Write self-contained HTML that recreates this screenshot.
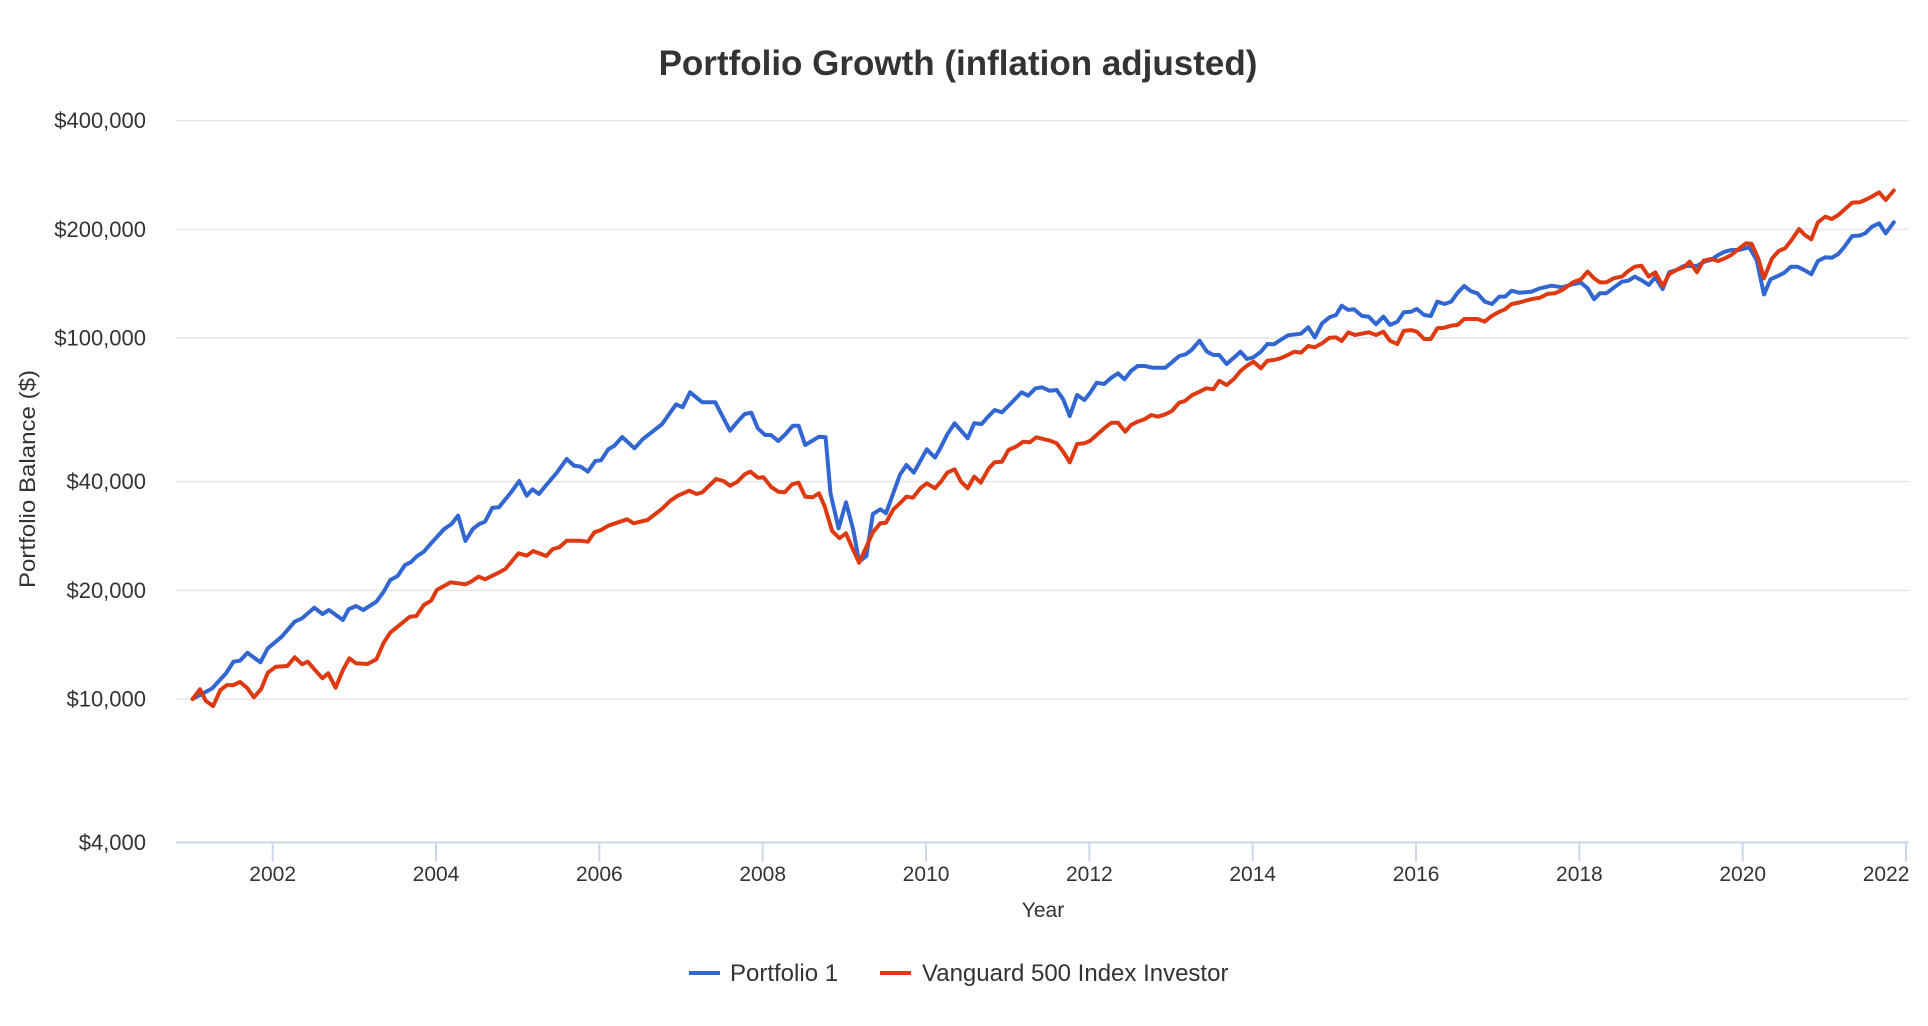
<!DOCTYPE html>
<html><head><meta charset="utf-8"><style>
html,body{margin:0;padding:0;background:#fff;}
svg{display:block;font-family:"Liberation Sans",Arial,sans-serif;}
</style></head><body>
<svg id="chart" width="1928" height="1026" viewBox="0 0 1928 1026">
<text x="958" y="75" text-anchor="middle" font-size="35" font-weight="bold" fill="#333">Portfolio Growth (inflation adjusted)</text>
<g id="grid"></g>
<g id="yaxis"></g>
<g id="xaxis"></g>
<text x="0" y="0" transform="translate(35,479) rotate(-90)" text-anchor="middle" font-size="22" textLength="218" lengthAdjust="spacingAndGlyphs" fill="#333">Portfolio Balance ($)</text>
<text x="1043" y="917" text-anchor="middle" font-size="21" fill="#333">Year</text>
<g id="series"></g>
<g>
 <g>
  <line x1="689" y1="973" x2="720" y2="973" stroke="#3266d0" stroke-width="4"/>
  <text x="730" y="981" font-size="24" fill="#333">Portfolio 1</text>
 </g>
 <g>
  <line x1="880" y1="973" x2="911" y2="973" stroke="#dd3a12" stroke-width="4"/>
  <text x="922" y="981" font-size="24" fill="#333">Vanguard 500 Index Investor</text>
 </g>
</g>
</svg>
<script>
const yTickValues=[4000,10000,20000,40000,100000,200000,400000];
const yTickLabels=["$4,000","$10,000","$20,000","$40,000","$100,000","$200,000","$400,000"];
const xTickYears=[2002,2004,2006,2008,2010,2012,2014,2016,2018,2020,2022];
const p1Dates=[2001.02,2001.26,2001.43,2001.52,2001.60,2001.69,2001.85,2001.94,2002.11,2002.27,2002.36,2002.51,2002.61,2002.69,2002.86,2002.93,2003.02,2003.11,2003.27,2003.36,2003.44,2003.53,2003.62,2003.69,2003.77,2003.85,2003.94,2004.10,2004.19,2004.27,2004.36,2004.45,2004.53,2004.60,2004.69,2004.77,2004.92,2005.02,2005.11,2005.18,2005.26,2005.35,2005.48,2005.60,2005.69,2005.77,2005.86,2005.95,2006.02,2006.11,2006.18,2006.28,2006.43,2006.53,2006.77,2006.87,2006.94,2007.02,2007.11,2007.26,2007.42,2007.60,2007.71,2007.78,2007.86,2007.94,2008.03,2008.10,2008.19,2008.27,2008.37,2008.44,2008.52,2008.69,2008.77,2008.83,2008.93,2009.02,2009.11,2009.18,2009.27,2009.35,2009.44,2009.51,2009.68,2009.76,2009.85,2010.01,2010.11,2010.17,2010.26,2010.35,2010.51,2010.59,2010.68,2010.76,2010.84,2010.93,2011.08,2011.17,2011.25,2011.34,2011.42,2011.51,2011.60,2011.68,2011.76,2011.85,2011.94,2012.01,2012.09,2012.18,2012.27,2012.35,2012.43,2012.51,2012.59,2012.68,2012.77,2012.93,2013.01,2013.10,2013.18,2013.25,2013.35,2013.44,2013.52,2013.59,2013.68,2013.77,2013.85,2013.93,2014.01,2014.10,2014.18,2014.26,2014.34,2014.43,2014.59,2014.68,2014.76,2014.85,2014.94,2015.02,2015.09,2015.17,2015.24,2015.34,2015.42,2015.51,2015.60,2015.68,2015.77,2015.85,2015.94,2016.01,2016.10,2016.18,2016.26,2016.35,2016.43,2016.51,2016.59,2016.67,2016.75,2016.84,2016.93,2017.02,2017.09,2017.17,2017.26,2017.41,2017.52,2017.66,2017.79,2017.92,2018.02,2018.10,2018.18,2018.25,2018.33,2018.42,2018.52,2018.60,2018.68,2018.77,2018.85,2018.93,2019.02,2019.10,2019.19,2019.28,2019.44,2019.53,2019.61,2019.70,2019.78,2019.86,2019.95,2020.08,2020.17,2020.26,2020.34,2020.43,2020.51,2020.59,2020.67,2020.75,2020.84,2020.92,2021.01,2021.09,2021.17,2021.24,2021.34,2021.43,2021.50,2021.58,2021.67,2021.75,2021.85];
const p1Values=[10000,10700,11800,12690,12770,13430,12640,13820,14880,16370,16730,17900,17200,17640,16550,17720,18100,17640,18600,19830,21360,21910,23500,23910,24900,25590,27000,29580,30540,32210,27400,29580,30540,30990,33880,33960,37370,40170,36580,38100,36980,39160,42370,46230,44300,44020,42640,45640,45840,49170,50210,53180,49490,52410,57790,62260,65530,64270,70730,66370,66370,55370,59290,61580,62100,56230,53870,53870,51850,53870,57150,57150,50540,53280,53070,37140,29710,35060,29380,24000,24900,32550,33540,32690,41750,44490,42370,49170,46620,49260,54110,58040,52740,58040,57790,60530,63180,62260,67340,70730,69210,72560,73030,71460,71780,67640,60800,69510,67340,70560,75190,74570,77620,79830,76850,81020,83640,83640,82740,82740,85650,89150,90120,92640,98290,91620,89730,89730,84730,88200,91620,87460,88430,91620,96250,96050,98740,101700,102800,107100,100400,109800,114100,115800,122900,119600,120100,115100,114600,109200,114600,108700,110900,117800,118300,120300,115800,115100,126100,124200,126100,133500,139300,134900,133000,126100,124200,130200,130200,135200,133500,134300,137300,139600,138200,140900,142300,137300,128100,133000,133000,137800,143200,144100,147900,144100,140300,147300,136700,152100,154400,158400,158400,162700,164500,169800,173400,175300,175300,178300,164500,132100,145400,148500,151700,157600,157600,154400,150200,163400,167300,166900,170900,178300,191700,192100,195000,203300,207800,195000,209200];
const vgDates=[2001.02,2001.11,2001.18,2001.27,2001.36,2001.44,2001.52,2001.60,2001.69,2001.77,2001.86,2001.94,2002.04,2002.18,2002.27,2002.36,2002.43,2002.51,2002.61,2002.68,2002.77,2002.86,2002.94,2003.02,2003.16,2003.27,2003.36,2003.44,2003.68,2003.76,2003.85,2003.94,2004.01,2004.18,2004.36,2004.43,2004.52,2004.60,2004.75,2004.85,2005.01,2005.11,2005.19,2005.35,2005.43,2005.51,2005.60,2005.76,2005.86,2005.94,2006.02,2006.11,2006.34,2006.42,2006.59,2006.76,2006.87,2006.96,2007.10,2007.19,2007.26,2007.43,2007.52,2007.60,2007.69,2007.78,2007.85,2007.94,2008.01,2008.10,2008.19,2008.27,2008.36,2008.44,2008.52,2008.61,2008.69,2008.76,2008.85,2008.94,2009.02,2009.09,2009.18,2009.27,2009.35,2009.44,2009.51,2009.60,2009.68,2009.76,2009.84,2009.93,2010.01,2010.11,2010.19,2010.26,2010.35,2010.43,2010.51,2010.59,2010.67,2010.77,2010.84,2010.93,2011.01,2011.10,2011.19,2011.27,2011.35,2011.52,2011.60,2011.68,2011.76,2011.85,2011.94,2012.01,2012.09,2012.19,2012.27,2012.35,2012.44,2012.51,2012.59,2012.68,2012.76,2012.84,2012.93,2013.01,2013.10,2013.17,2013.26,2013.35,2013.43,2013.52,2013.59,2013.68,2013.77,2013.85,2013.93,2014.01,2014.10,2014.18,2014.26,2014.34,2014.43,2014.51,2014.59,2014.68,2014.76,2014.85,2014.94,2015.02,2015.09,2015.17,2015.25,2015.42,2015.51,2015.60,2015.68,2015.77,2015.85,2015.94,2016.01,2016.10,2016.18,2016.26,2016.35,2016.43,2016.51,2016.59,2016.75,2016.84,2016.93,2017.02,2017.09,2017.17,2017.26,2017.41,2017.52,2017.61,2017.70,2017.79,2017.92,2018.02,2018.10,2018.18,2018.25,2018.33,2018.42,2018.52,2018.60,2018.68,2018.76,2018.85,2018.93,2019.02,2019.10,2019.19,2019.28,2019.35,2019.44,2019.52,2019.61,2019.70,2019.78,2019.86,2019.95,2020.04,2020.11,2020.19,2020.26,2020.36,2020.44,2020.52,2020.60,2020.69,2020.76,2020.84,2020.92,2021.01,2021.09,2021.17,2021.24,2021.34,2021.43,2021.50,2021.58,2021.67,2021.75,2021.85];
const vgValues=[10000,10640,9890,9560,10590,10930,10930,11150,10710,10110,10660,11830,12290,12340,13050,12480,12690,12090,11410,11780,10750,12030,12960,12560,12500,12880,14320,15270,16900,16980,18210,18720,20040,21050,20780,21130,21830,21460,22290,22920,25330,24950,25700,24900,26030,26310,27450,27450,27280,28960,29380,30200,31460,30670,31320,33540,35420,36580,37760,36980,37370,40680,40170,38990,39990,41930,42640,41030,41140,38740,37520,37370,39330,39730,36350,36200,37140,34100,29200,27880,28770,26420,23860,26420,28960,30670,30790,33540,34840,36350,36110,38350,39580,38350,40170,42370,43290,39990,38350,41300,39730,43570,45250,45420,48950,49990,51600,51410,53070,51930,51080,48420,45250,50860,51080,51930,53870,56440,58270,58270,55010,57410,58640,59660,61190,60530,61460,62780,66200,66920,69510,71010,72560,72100,76130,74090,76990,81020,83820,85980,82430,86540,86920,87870,89730,91620,91050,95030,94240,96680,100200,100400,98100,103700,101900,103700,101900,104100,98290,96250,104600,105200,104100,99360,99360,106400,106800,108200,108700,112900,112900,111000,115300,118300,120100,124200,125300,128100,129400,132500,133000,135800,142600,145400,152700,146300,142600,142600,146300,147900,153400,157600,158600,147900,152100,139300,150200,154400,157000,162700,152100,163700,165500,163400,166300,169800,176400,183000,182200,166300,146300,166300,174200,177300,186900,200400,192900,187700,209200,216800,213600,219100,226200,237100,237700,241200,246300,253300,241200,256200];

const NS="http://www.w3.org/2000/svg";
const PL=176, PR=1909, PB=842.5;
function xScale(yr){return 191+(yr-2001)*81.67;}
function yScale(v){return 699-361*Math.log10(v/10000);}
function mk(tag,attrs,parent){const e=document.createElementNS(NS,tag);for(const k in attrs)e.setAttribute(k,attrs[k]);parent.appendChild(e);return e;}
const grid=document.getElementById('grid'),yax=document.getElementById('yaxis'),xax=document.getElementById('xaxis'),ser=document.getElementById('series');
yTickValues.forEach((v,i)=>{
  const y=yScale(v);
  if(i>0){const g=mk('line',{x1:PL,x2:PR,y1:y,y2:y,stroke:'#e6e6e6','stroke-width':1.5},grid);
  
  }
  const t=mk('text',{x:146,y:y+7.5,'text-anchor':'end','font-size':22,fill:'#333'},yax);
  t.textContent=yTickLabels[i];
  
  
});
const axl=mk('line',{x1:PL,x2:PR,y1:PB,y2:PB,stroke:'#ccd6eb','stroke-width':2},xax);


xTickYears.forEach(yr=>{
  const x=xScale(yr);
  const tk=mk('line',{x1:x,x2:x,y1:PB,y2:PB+19,stroke:'#ccd6eb','stroke-width':2},xax);
  
  
  const t=mk('text',{x:yr===2022?x-20:x,y:881,'text-anchor':'middle','font-size':21,fill:'#333'},xax);
  t.textContent=String(yr);
  
  
});
function drawLine(dates,vals,color,name){
  const d=dates.map((t,i)=>(i?'L':'M')+xScale(t).toFixed(1)+','+yScale(vals[i]).toFixed(1)).join(' ');
  const p=mk('path',{d:d,fill:'none',stroke:color,'stroke-width':4,'stroke-linejoin':'round','stroke-linecap':'round'},ser);
  
  
}
drawLine(p1Dates,p1Values,'#3266d0','portfolio-1-line');
drawLine(vgDates,vgValues,'#dd3a12','vanguard-500-line');
</script>
</body></html>
